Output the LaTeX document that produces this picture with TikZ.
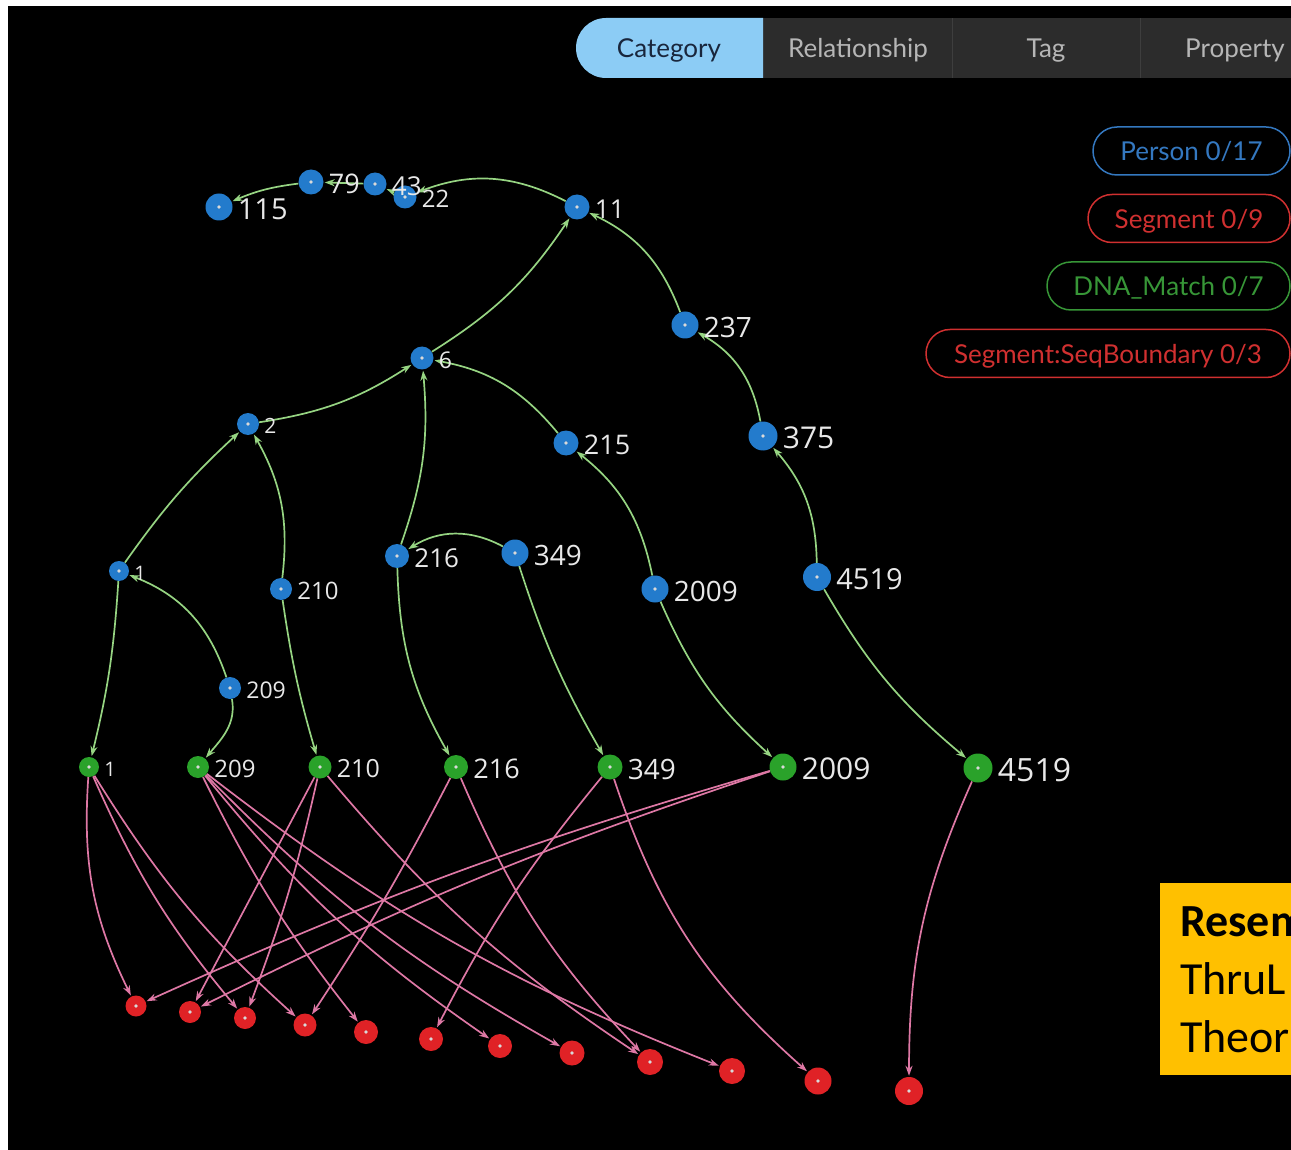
\documentclass[tikz,border=0pt]{standalone}
\usepackage{fontspec}
\setmainfont{Open Sans}
\newfontfamily\uifont{Lato}
\newfontfamily\notefont{Carlito}
\usetikzlibrary{arrows.meta}

\pgfdeclarelayer{canvas}
\pgfdeclarelayer{links}
\pgfdeclarelayer{labels}
\pgfsetlayers{canvas,links,main,labels}

\definecolor{pblue}{RGB}{35,123,204}
\definecolor{dgreen}{RGB}{42,162,42}
\definecolor{sred}{RGB}{224,34,38}
\definecolor{gedge}{RGB}{150,212,130}
\definecolor{redge}{RGB}{222,120,165}
\definecolor{lbltext}{RGB}{232,232,232}
\definecolor{tabblue}{RGB}{140,204,245}
\definecolor{tabgray}{RGB}{44,44,44}
\definecolor{tabline}{RGB}{62,62,62}
\definecolor{tabtext}{RGB}{182,182,182}
\definecolor{tabdark}{RGB}{25,38,60}
\definecolor{lgblue}{RGB}{52,120,192}
\definecolor{lgred}{RGB}{208,48,48}
\definecolor{lggreen}{RGB}{55,150,55}
\definecolor{notebg}{RGB}{255,192,0}

\tikzset{
  centerdot/.style={path picture={\fill[white!70!gray] (path picture bounding box.center) circle (1.8pt);}},
  person/.style={circle, fill=pblue, inner sep=0pt, minimum size=#1, centerdot},
  match/.style={circle, fill=dgreen, inner sep=0pt, minimum size=#1, centerdot},
  seg/.style={circle, fill=sred, inner sep=0pt, minimum size=#1, centerdot},
  lbl/.style={text=lbltext, inner sep=0pt, anchor=west},
  rel/.style={draw=gedge, line width=1.7pt, shorten >=1pt, -{Stealth[length=10pt,width=7pt]}},
  segrel/.style={draw=redge, line width=1.7pt, shorten >=1pt, -{Stealth[length=10pt,width=7pt]}},
  tab/.style={font={\uifont\fontsize{26}{26}\selectfont}, inner sep=0pt, text depth=0pt},
  pill/.style={draw=#1, text=#1, line width=1.5pt, rounded corners=24pt, minimum height=48pt,
               inner sep=0pt, text depth=0pt, font={\uifont\fontsize{26}{26}\selectfont}},
  notetext/.style={anchor=base west, inner sep=0pt, text=black, font={\notefont\fontsize{46}{46}\selectfont}}
}

% name, x, y, diameter, label, label size
\newcommand\personnode[6]{%
  \node[person=#4pt] (#1) at (#2,-#3) {};
  \begin{pgfonlayer}{labels}
  \node[lbl, font={\fontsize{#6}{#6}\selectfont}] (#1l) at ([xshift=5pt,yshift=-2pt]#1.east) {#5};
  \end{pgfonlayer}}
\newcommand\matchnode[6]{%
  \node[match=#4pt] (#1) at (#2,-#3) {};
  \begin{pgfonlayer}{labels}
  \node[lbl, font={\fontsize{#6}{#6}\selectfont}] (#1l) at ([xshift=5pt,yshift=-2pt]#1.east) {#5};
  \end{pgfonlayer}}
\newcommand\segnode[4]{\node[seg=#4pt] (#1) at (#2,-#3) {};}

\begin{document}
\begin{tikzpicture}[x=1pt,y=1pt]
\useasboundingbox (0,0) rectangle (1291,-1150);
\begin{pgfonlayer}{canvas}
  \fill[white] (0,0) rectangle (1291,-1150);
  \fill[black] (8,-6) rectangle (1291,-1150);
\end{pgfonlayer}

% tab bar
\fill[tabgray] (763,-18) rectangle (1291,-78);
\draw[tabline, line width=1pt] (952,-18) -- (952,-78) (1140,-18) -- (1140,-78);
\fill[tabblue] (763,-18) -- (606,-18) arc[start angle=90, end angle=270, radius=30] -- (763,-78) -- cycle;
\node[tab, text=tabdark] (tabcat) at (669,-48) {Category};
\node[tab, text=tabtext] (tabrel) at (858,-48) {Relationship};
\node[tab, text=tabtext] (tabtag) at (1046,-48) {Tag};
\node[tab, text=tabtext] (tabprop) at (1235,-48) {Property};

% legend
\node[pill=lgblue, minimum width=197pt] (lgperson) at (1191.5,-151) {Person 0/17};
\node[pill=lgred, minimum width=202pt] (lgseg) at (1189,-218.5) {Segment 0/9};
\node[pill=lggreen, minimum width=243pt] (lgmatch) at (1168.5,-286) {DNA\_Match 0/7};
\node[pill=lgred, minimum width=364pt] (lgbound) at (1108,-353.5) {Segment:SeqBoundary 0/3};

% note box
\fill[notebg] (1160,-883) rectangle (1291,-1075);
\node[notetext, font={\notefont\bfseries\fontsize{46}{46}\selectfont}] (note1) at (1180,-936) {Resem};
\node[notetext] (note2) at (1180,-994) {ThruL};
\node[notetext] (note3) at (1180,-1052) {Theor};

% people
\personnode{p115}{219}{207}{27}{115}{29}
\personnode{p79}{311}{182}{25}{79}{27}
\personnode{p43}{375}{184}{23}{43}{26}
\personnode{p22}{405}{197}{23}{22}{24}
\personnode{p11}{577}{207}{25}{11}{26}
\personnode{p237}{685}{325}{27}{237}{28}
\personnode{p6}{422}{358}{23}{6}{23}
\personnode{p2}{248}{424}{22}{2}{21}
\personnode{p215}{566}{443}{25}{215}{27}
\personnode{p375}{763}{436}{29}{375}{30}
\personnode{p1}{119}{571}{20}{1}{20}
\personnode{p210}{281}{589}{22}{210}{24}
\personnode{p216}{397}{556}{24}{216}{26}
\personnode{p349}{515}{553}{27}{349}{28}
\personnode{p2009}{655}{589}{27}{2009}{28}
\personnode{p4519}{817}{577}{28}{4519}{29}
\personnode{p209}{230}{688}{22}{209}{23}

% DNA matches
\matchnode{g1}{89}{767}{20}{1}{20}
\matchnode{g209}{198}{767}{22}{209}{24}
\matchnode{g210}{320}{767}{23}{210}{25}
\matchnode{g216}{456}{767}{24}{216}{27}
\matchnode{g349}{610}{767}{25}{349}{28}
\matchnode{g2009}{783}{767}{27}{2009}{30}
\matchnode{g4519}{978}{768}{29}{4519}{32}

% segments
\segnode{r1}{136}{1006}{21}
\segnode{r2}{190}{1012}{22}
\segnode{r3}{245}{1018}{22}
\segnode{r4}{305}{1025}{23}
\segnode{r5}{366}{1032}{24}
\segnode{r6}{431}{1039}{24}
\segnode{r7}{500}{1046}{24}
\segnode{r8}{572}{1053}{25}
\segnode{r9}{650}{1062}{26}
\segnode{r10}{732}{1071}{26}
\segnode{r11}{818}{1081}{27}
\segnode{r12}{909}{1091}{28}

\begin{pgfonlayer}{links}
  % parent links
  \draw[rel] (p79) to[bend right=8] (p115);
  \draw[rel] (p43) to (p79);
  \draw[rel] (p22) to (p43);
  \draw[rel] (p11) to[bend right=24] (p22);
  \draw[rel] (p6) to[bend right=12] (p11);
  \draw[rel] (p237) to[bend right=22] (p11);
  \draw[rel] (p375) to[bend right=25] (p237);
  \draw[rel] (p4519) to[bend right=20] (p375);
  \draw[rel] (p2) to[bend right=12] (p6);
  \draw[rel] (p216) to[bend right=12] (p6);
  \draw[rel] (p215) to[bend right=20] (p6);
  \draw[rel] (p2009) to[bend right=20] (p215);
  \draw[rel] (p1) to[bend left=6] (p2);
  \draw[rel] (p210) to[bend right=18] (p2);
  \draw[rel] (p209) to[bend right=25] (p1);
  \draw[rel] (p349) to[bend right=30] (p216);
  % person to match
  \draw[rel] (p1) to[bend left=5] (g1);
  \draw[rel] (p209) to[out=-80, in=50] (g209);
  \draw[rel] (p210) to[bend right=4] (g210);
  \draw[rel] (p216) to[bend right=14] (g216);
  \draw[rel] (p349) to[bend right=6] (g349);
  \draw[rel] (p2009) to[bend right=12] (g2009);
  \draw[rel] (p4519) to[bend right=10] (g4519);
  % match to segment
  \draw[segrel] (g1) to[bend right=15] (r1);
  \draw[segrel] (g1) to[bend right=8] (r3);
  \draw[segrel] (g1) to[bend right=8] (r4);
  \draw[segrel] (g209) to[bend right=6] (r5);
  \draw[segrel] (g209) to[bend right=8] (r7);
  \draw[segrel] (g209) to[bend right=8] (r8);
  \draw[segrel] (g209) to[bend right=8] (r10);
  \draw[segrel] (g210) to (r2);
  \draw[segrel] (g210) to[bend left=4] (r3);
  \draw[segrel] (g210) to[bend right=8] (r9);
  \draw[segrel] (g216) to[bend left=3] (r4);
  \draw[segrel] (g216) to[bend right=10] (r9);
  \draw[segrel] (g349) to[bend right=6] (r6);
  \draw[segrel] (g349) to[bend right=15] (r11);
  \draw[segrel] (g2009) to[bend right=4] (r1);
  \draw[segrel] (g2009) to[bend right=4] (r2);
  \draw[segrel] (g4519) to[bend right=12] (r12);
\end{pgfonlayer}
\end{tikzpicture}
\end{document}
